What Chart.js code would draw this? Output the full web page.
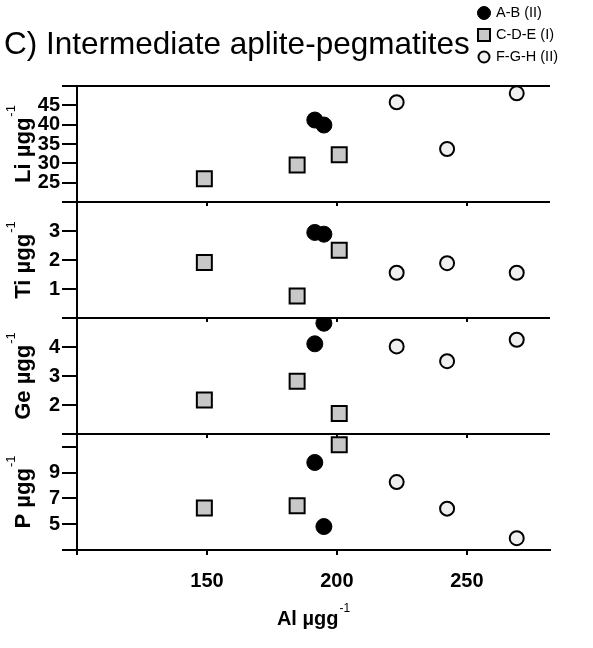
<!DOCTYPE html>
<html>
<head>
<meta charset="utf-8">
<script src="https://cdn.jsdelivr.net/npm/chart.js@4.4.1/dist/chart.umd.min.js"></script>
<style>
  html, body { margin: 0; padding: 0; background: #fff; }
  #wrap { position: relative; width: 593px; height: 648px; }
</style>
</head>
<body>
<div id="wrap"><canvas id="c" width="593" height="648"></canvas></div>
<script>
// Intermediate aplite-pegmatites: Li, Ti, Ge and P against Al, one panel
// per element stacked over a shared Al axis.

// Al (shared x), one list per group
const alAB  = [191.5, 195.0];
const alCDE = [149.0, 184.7, 200.9];
const alFGH = [223.0, 242.4, 269.2];

// Li panel
const liAB  = [41.2, 39.9];
const liCDE = [26.0, 29.6, 32.2];
const liFGH = [45.8, 33.7, 48.1];

// Ti panel
const tiAB  = [2.95, 2.89];
const tiCDE = [1.91, 0.76, 2.34];
const tiFGH = [1.56, 1.89, 1.56];

// Ge panel
const geAB  = [4.11, 4.82];
const geCDE = [2.17, 2.82, 1.71];
const geFGH = [4.02, 3.51, 4.25];

// P panel
const pAB  = [9.79, 4.82];
const pCDE = [6.26, 6.44, 11.16];
const pFGH = [8.27, 6.21, 3.92];

// tick marks per axis (first/last are the panel edges) and which get a label
const liTicks = [20, 25, 30, 35, 40, 45, 50];
const liLabels = [25, 30, 35, 40, 45];
const tiTicks = [0, 1, 2, 3, 4];
const tiLabels = [1, 2, 3];
const geTicks = [1, 2, 3, 4, 5];
const geLabels = [2, 3, 4];
const pTicks = [3, 5, 7, 9, 11, 12];
const pLabels = [5, 7, 9];
const xTicks = [100, 150, 200, 250];
const xLabels = [150, 200, 250];

const groupNames = ['A-B (II)', 'C-D-E (I)', 'F-G-H (II)'];

const FONT = '"Liberation Sans", Arial, Helvetica, sans-serif';
const AXIS_W = 77;

const styleAB = { pointStyle: 'circle', pointRadius: 8, backgroundColor: '#000', borderColor: '#000', borderWidth: 1 };
const styleCDE = { pointStyle: 'rect', pointRadius: 10.6, backgroundColor: '#c8c8c8', borderColor: '#000', borderWidth: 2 };
const styleFGH = { pointStyle: 'circle', pointRadius: 7, backgroundColor: '#efefef', borderColor: '#000', borderWidth: 2 };
const groupStyles = [styleAB, styleCDE, styleFGH];

function series(label, xs, ys, axisId, style) {
  return {
    label,
    data: xs.map((x, i) => ({ x, y: ys[i] })),
    yAxisID: axisId,
    xAxisID: 'x',
    showLine: false,
    pointHoverRadius: style.pointRadius,
    ...style,
  };
}

function yScale(ticks, labels, weight) {
  const lo = ticks[0];
  const hi = ticks[ticks.length - 1];
  return {
    type: 'linear',
    axis: 'y',
    position: 'left',
    stack: 'panels',
    stackWeight: 1,
    weight,
    min: lo,
    max: hi,
    afterBuildTicks: s => { s.ticks = ticks.map(v => ({ value: v })); },
    afterFit: s => { s.width = AXIS_W; },
    border: { display: true, color: '#000', width: 2 },
    grid: {
      drawOnChartArea: true,
      // only the panel edges run across the plot
      color: c => (c.tick && (c.tick.value === lo || c.tick.value === hi)) ? '#000' : 'rgba(0,0,0,0)',
      lineWidth: 2,
      tickLength: 15,
      tickColor: '#000',
      tickWidth: 2,
    },
    ticks: {
      autoSkip: false,
      padding: 2,
      color: '#000',
      font: { family: FONT, size: 20, weight: 'bold' },
      callback: v => labels.includes(v) ? String(v) : '',
    },
  };
}

// little Al ticks under each inner panel edge
const panelTicks = {
  id: 'panelTicks',
  beforeDatasetsDraw(chart) {
    const xs = chart.scales.x;
    const ctx = chart.ctx;
    ctx.save();
    ctx.strokeStyle = '#000';
    ctx.lineWidth = 2;
    for (const id of ['yLi', 'yTi', 'yGe']) {
      const b = chart.scales[id].bottom;
      for (const v of xTicks) {
        const px = Math.round(xs.getPixelForValue(v));
        ctx.beginPath();
        ctx.moveTo(px, b);
        ctx.lineTo(px, b + 4);
        ctx.stroke();
      }
    }
    ctx.restore();
  },
};

// "name µgg" with a raised -1
function drawUnitText(ctx, base, size) {
  const big = `bold ${size}px ${FONT}`;
  const small = `${Math.round(size * 0.6)}px ${FONT}`;
  ctx.font = big;
  const w1 = ctx.measureText(base).width;
  ctx.font = small;
  const w2 = ctx.measureText('-1').width;
  const x0 = -(w1 + w2 + 1) / 2;
  ctx.textAlign = 'left';
  ctx.textBaseline = 'alphabetic';
  ctx.font = big;
  ctx.fillText(base, x0, size * 0.36);
  ctx.font = small;
  ctx.fillText('-1', x0 + w1 + 1, -size * 0.3);
}

const decorations = {
  id: 'decorations',
  afterDraw(chart) {
    const ctx = chart.ctx;
    ctx.save();
    ctx.fillStyle = '#000';

    // panel titles
    const names = [['yLi', 'Li'], ['yTi', 'Ti'], ['yGe', 'Ge'], ['yP', 'P']];
    for (const [id, name] of names) {
      const s = chart.scales[id];
      ctx.save();
      ctx.translate(22, (s.top + s.bottom) / 2);
      ctx.rotate(-Math.PI / 2);
      drawUnitText(ctx, name + ' µgg', 22);
      ctx.restore();
    }

    // Al axis title
    const xs = chart.scales.x;
    ctx.save();
    ctx.translate((xs.left + xs.right) / 2, 618);
    drawUnitText(ctx, 'Al µgg', 20);
    ctx.restore();

    // heading
    ctx.font = `31.5px ${FONT}`;
    ctx.textAlign = 'left';
    ctx.textBaseline = 'alphabetic';
    ctx.fillText('C) Intermediate aplite-pegmatites', 4, 54);

    // group key
    const keyX = 484;
    const rows = [13, 35, 57];
    groupNames.forEach((name, i) => {
      const st = groupStyles[i];
      const y = rows[i];
      ctx.fillStyle = st.backgroundColor;
      ctx.strokeStyle = st.borderColor;
      ctx.lineWidth = st.borderWidth;
      ctx.beginPath();
      if (st.pointStyle === 'rect') {
        ctx.rect(keyX - 6, y - 6, 12, 12);
      } else {
        ctx.arc(keyX, y, i === 0 ? 6.5 : 5.5, 0, Math.PI * 2);
      }
      ctx.fill();
      ctx.stroke();
      ctx.fillStyle = '#000';
      ctx.font = `14.5px ${FONT}`;
      ctx.textBaseline = 'middle';
      ctx.fillText(name, keyX + 12, y);
    });
    ctx.restore();
  },
};

const datasets = [
  series(groupNames[0], alAB, liAB, 'yLi', styleAB),
  series(groupNames[1], alCDE, liCDE, 'yLi', styleCDE),
  series(groupNames[2], alFGH, liFGH, 'yLi', styleFGH),
  series(groupNames[0], alAB, tiAB, 'yTi', styleAB),
  series(groupNames[1], alCDE, tiCDE, 'yTi', styleCDE),
  series(groupNames[2], alFGH, tiFGH, 'yTi', styleFGH),
  series(groupNames[0], alAB, geAB, 'yGe', styleAB),
  series(groupNames[1], alCDE, geCDE, 'yGe', styleCDE),
  series(groupNames[2], alFGH, geFGH, 'yGe', styleFGH),
  series(groupNames[0], alAB, pAB, 'yP', styleAB),
  series(groupNames[1], alCDE, pCDE, 'yP', styleCDE),
  series(groupNames[2], alFGH, pFGH, 'yP', styleFGH),
];

new Chart(document.getElementById('c'), {
  type: 'scatter',
  data: { datasets },
  options: {
    responsive: false,
    animation: false,
    events: [],
    layout: { padding: { top: 86, right: 43, bottom: 0, left: 0 } },
    plugins: { legend: { display: false }, tooltip: { enabled: false } },
    scales: {
      x: {
        type: 'linear',
        position: 'bottom',
        min: 100,
        max: 282,
        afterBuildTicks: s => { s.ticks = xTicks.map(v => ({ value: v })); },
        afterFit: s => { s.height = 98; },
        border: { display: true, color: '#000', width: 2 },
        grid: { drawOnChartArea: false, color: '#000', lineWidth: 2, tickLength: 5 },
        ticks: {
          autoSkip: false,
          maxRotation: 0,
          padding: 14,
          color: '#000',
          font: { family: FONT, size: 20, weight: 'bold' },
          callback: v => xLabels.includes(v) ? String(v) : '',
        },
      },
      yLi: yScale(liTicks, liLabels, 4),
      yTi: yScale(tiTicks, tiLabels, 3),
      yGe: yScale(geTicks, geLabels, 2),
      yP: yScale(pTicks, pLabels, 1),
    },
  },
  plugins: [panelTicks, decorations],
});
</script>
</body>
</html>
